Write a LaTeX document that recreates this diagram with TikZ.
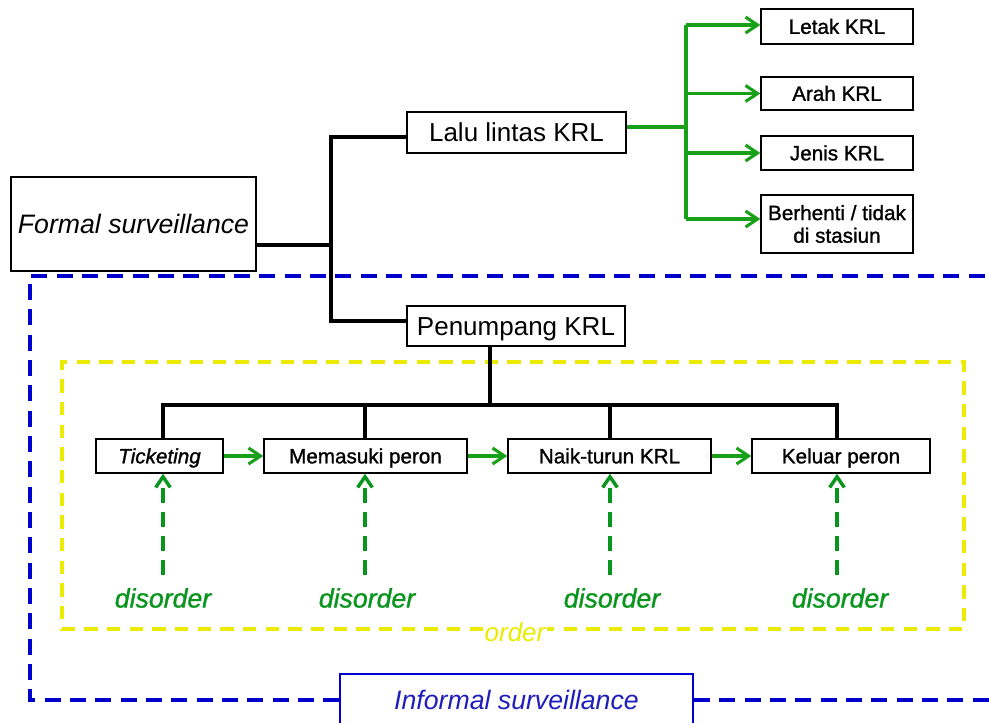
\documentclass[tikz,border=0pt]{standalone}
\usepackage{fontspec}
\setmainfont{Liberation Sans}
\newfontfamily\boldish[FakeBold=1.2]{Liberation Sans}
\usetikzlibrary{arrows.meta}
\definecolor{grn}{RGB}{25,160,25}
\definecolor{dgrn}{RGB}{10,150,30}
\definecolor{blu}{RGB}{0,0,205}
\definecolor{tblu}{RGB}{30,30,190}
\definecolor{yel}{RGB}{235,235,0}
\begin{document}
\begin{tikzpicture}[x=0.75pt,y=-0.75pt,
  box/.style={draw=black,line width=1.1pt,fill=white,inner sep=0pt,align=center},
  small/.style={box,font=\boldish\fontsize{15.5pt}{17pt}\selectfont},
  one/.style={text height=11pt,text depth=0pt},
  big/.style={text height=14pt,text depth=0pt},
  blk/.style={line width=3pt,line join=miter,line cap=rect},
  grnline/.style={draw=grn,line width=2.3pt},
  grnarrow/.style={grnline,-{Straight Barb[length=9pt,width=12pt,line width=2.3pt]}},
  dasharrow/.style={draw=dgrn,line width=2.6pt,dash pattern=on 11pt off 7pt,-{Straight Barb[length=8pt,width=11pt,line width=2.6pt]}},
  dis/.style={text=dgrn,font=\boldish\fontsize{20pt}{22pt}\selectfont\itshape,inner sep=1pt}]
\useasboundingbox (0,0) rectangle (989,722);
% informal surveillance region
\node[draw=blu,line width=1.4pt,fill=white,minimum width=353*0.75pt,minimum height=52*0.75pt,inner sep=0pt,text=tblu,font=\fontsize{20pt}{22pt}\selectfont\itshape] (inf) at (516.5,700) {Informal surveillance};
\draw[blu,line width=3pt,dash pattern=on 12pt off 7pt] (1010,276) -- (30,276) -- (30,700) -- (inf.west);
\draw[blu,line width=3pt,dash pattern=on 12pt off 7pt] (inf.east) -- (1010,700);
% order region
\node[text=yel,fill=white,font=\fontsize{19.5pt}{21pt}\selectfont\itshape,inner sep=1pt] (ord) at (515,632) {order};
\draw[yel,line width=2.3pt,dash pattern=on 10pt off 7pt] (ord.west |- 0,629) -- (62,629) -- (62,362) -- (964,362) -- (964,629) -- (ord.east |- 0,629);
% nodes
\node[box,big,minimum width=245*0.75pt,minimum height=94*0.75pt,font=\fontsize{20pt}{22pt}\selectfont\itshape] (formal) at (133.5,224) {Formal surveillance};
\node[box,big,minimum width=219*0.75pt,minimum height=41*0.75pt,font=\fontsize{19.5pt}{21pt}\selectfont] (lalu) at (516.5,132.5) {Lalu lintas KRL};
\node[box,big,minimum width=218*0.75pt,minimum height=40*0.75pt,font=\fontsize{19.5pt}{21pt}\selectfont] (pen) at (516,326) {Penumpang KRL};
\node[small,one,minimum width=152*0.75pt,minimum height=35*0.75pt] (letak) at (837,26.5) {Letak KRL};
\node[small,one,minimum width=152*0.75pt,minimum height=33*0.75pt] (arah) at (837,93.5) {Arah KRL};
\node[small,one,minimum width=152*0.75pt,minimum height=34*0.75pt] (jenis) at (837,153) {Jenis KRL};
\node[small,minimum width=152*0.75pt,minimum height=58*0.75pt] (berh) at (837,224) {Berhenti / tidak\\di stasiun};
\node[small,one,minimum width=127*0.75pt,minimum height=34*0.75pt,font=\boldish\fontsize{15.5pt}{17pt}\selectfont\itshape] (tick) at (159.5,456) {Ticketing};
\node[small,one,minimum width=203*0.75pt,minimum height=34*0.75pt] (mem) at (365.5,456) {Memasuki peron};
\node[small,one,minimum width=203*0.75pt,minimum height=34*0.75pt] (naik) at (609.5,456) {Naik-turun KRL};
\node[small,one,minimum width=178*0.75pt,minimum height=34*0.75pt] (kel) at (841,456) {Keluar peron};
% black tree
\coordinate (j1) at (331,245);
\coordinate (jt) at (331,137);
\coordinate (jb) at (331,321);
\draw[blk] (j1 -| formal.east) -- (j1);
\draw[blk] (lalu.west |- jt) -- (jt) -- (jb) -- (pen.west |- jb);
\coordinate (pd) at (490,405);
\draw[blk] (pd |- pen.south) -- (pd);
\coordinate (b1) at (163,405);
\coordinate (b2) at (365,405);
\coordinate (b3) at (610,405);
\coordinate (b4) at (837,405);
\draw[blk] (b1) -- (b4);
\draw[blk] (b1) -- (b1 |- tick.north);
\draw[blk] (b2) -- (b2 |- mem.north);
\draw[blk] (b3) -- (b3 |- naik.north);
\draw[blk] (b4) -- (b4 |- kel.north);
% green tree
\coordinate (g) at (686,127);
\draw[grnline] (lalu.east |- g) -- (g);
\draw[grnline] (g |- 0,25) -- (g |- 0,219);
\draw[grnarrow] (g |- 0,25) -- (letak.west |- 0,25);
\draw[grnarrow] (g |- arah.west) -- (arah.west);
\draw[grnarrow] (g |- jenis.west) -- (jenis.west);
\draw[grnarrow] (g |- 0,219) -- (berh.west |- 0,219);
% process arrows
\draw[grnarrow] (tick.east) -- (mem.west);
\draw[grnarrow] (mem.east) -- (naik.west);
\draw[grnarrow] (naik.east) -- (kel.west);
% disorder
\node[dis] (d1) at (163,598) {disorder};
\node[dis] (d2) at (367,598) {disorder};
\node[dis] (d3) at (612,598) {disorder};
\node[dis] (d4) at (840,598) {disorder};
\draw[dasharrow] (b1 |- 0,575) -- (b1 |- tick.south);
\draw[dasharrow] (b2 |- 0,575) -- (b2 |- mem.south);
\draw[dasharrow] (b3 |- 0,575) -- (b3 |- naik.south);
\draw[dasharrow] (b4 |- 0,575) -- (b4 |- kel.south);
\end{tikzpicture}
\end{document}
